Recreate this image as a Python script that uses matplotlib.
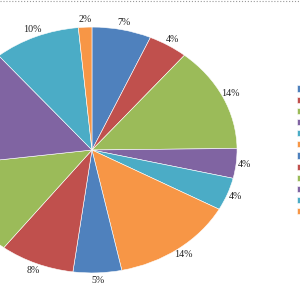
import matplotlib
matplotlib.use("Agg")
import matplotlib.pyplot as plt
from matplotlib.lines import Line2D

# 数据：从图上估读（顺时针，从12点方向开始）
categories = ["1", "2", "3", "4", "5", "6", "7", "8", "9", "10", "11", "12"]
values = [6.6, 4.4, 13.8, 3.9, 4.3, 13.7, 5.4, 8.3, 12.6, 15.9, 9.6, 1.5]
colors = ["#4F81BD", "#C0504D", "#9BBB59", "#8064A2", "#4BACC6", "#F79646"] * 2

fig = plt.figure(figsize=(3, 3), dpi=100)
ax = fig.add_axes([0, 0, 1, 1])

wedges, texts, autotexts = ax.pie(
    values, colors=colors, startangle=90, counterclock=False,
    autopct="%.0f%%", pctdistance=1.06,
    wedgeprops=dict(edgecolor="white", linewidth=0.4),
    textprops=dict(fontsize=7.2, color="#222222", family="Liberation Serif"),
)

# 饼图在原图里被横向拉伸，中心偏左
ax.set_aspect("auto")
ax.set_xlim(-0.634, 1.434)
ax.set_ylim(-1.22, 1.22)
ax.axis("off")

ax.legend(wedges, categories, loc="upper left", bbox_to_anchor=(297 / 300, 1 - 84 / 300),
          bbox_transform=fig.transFigure, frameon=False, borderpad=0, borderaxespad=0,
          handlelength=0.5, handleheight=0.6, labelspacing=0.12, fontsize=7)

# 顶部虚线
fig.add_artist(Line2D([0, 1], [0.996, 0.996], transform=fig.transFigure,
                      linestyle=":", color="#999999", linewidth=0.8))

fig.savefig("out.png", dpi=100)
